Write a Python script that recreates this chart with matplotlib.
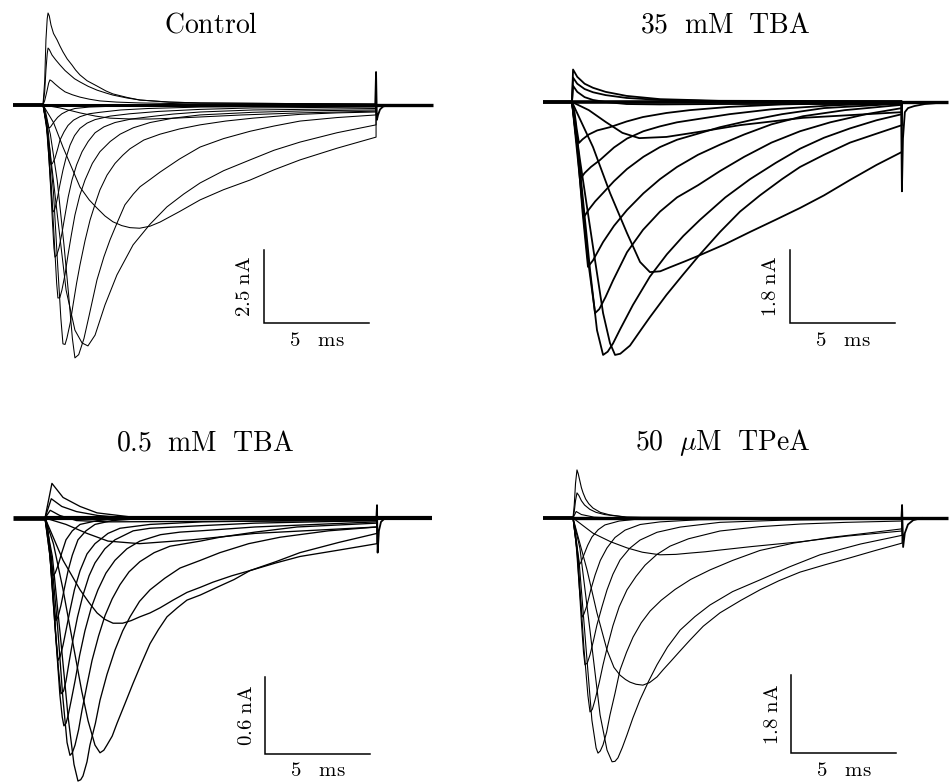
import matplotlib
matplotlib.use("Agg")
import matplotlib.pyplot as plt

plt.rcParams['mathtext.fontset'] = 'cm'
plt.rcParams['font.family'] = ['DejaVu Serif']

# ---------------------------------------------------------------- data
# times in ms (0 = start of the test pulse), currents in nA (inward < 0)
titles = [r'$\mathrm{Control}$', r'$\mathrm{35\ \ mM\ \ TBA}$',
          r'$\mathrm{0.5\ \ mM\ \ TBA}$', r'$\mathrm{50\ \ }\mu\mathrm{M\ \ TPeA}$']
bar_nA = [2.5, 1.8, 0.6, 1.8]
bar_ms = [5, 5, 5, 5]
bar_nA_labels = [r'$\mathrm{2.5\ nA}$', r'$\mathrm{1.8\ nA}$', r'$\mathrm{0.6\ nA}$', r'$\mathrm{1.8\ nA}$']
bar_ms_labels = [r'$\mathrm{5\ \ \ ms}$'] * 4
pulse_end = [15.86, 15.71, 15.81, 15.67]
record_start = [-1.43, -1.38, -1.52, -1.43]
record_stop = [18.55, 17.90, 18.43, 17.86]

ctrl_t = [
    [0, .08, .14, .2, .24, .3, .38, .5, .67, .8, .95, 1.15, 1.38, 1.55, 1.76, 2.1, 2.57, 3.0, 3.33, 4.0, 4.62, 6, 7.48, 15.86],
    [0, .08, .14, .2, .24, .3, .43, .6, .81, 1.05, 1.29, 1.5, 1.76, 2.15, 2.57, 3.0, 3.33, 4.0, 4.62, 6, 7.48, 15.86],
    [0, .08, .18, .27, .33, .42, .57, .8, 1.05, 1.4, 1.76, 2.2, 2.71, 3.5, 4.62, 7, 15.86],
    [0, .1, .2, .26, .29, .36, .52, .7, .90, 1.2, 1.52, 2.2, 3.0, 5, 15.86],
    [0, .12, .22, .3, .35, .38, .45, .57, .7, .81, 1.0, 1.19, 1.45, 1.76, 2.2, 2.71, 3.7, 5.0, 7.5, 15.86],
    [0, .15, .28, .38, .44, .48, .55, .67, .8, .95, 1.1, 1.29, 1.5, 1.76, 2.1, 2.48, 3.2, 4.14, 5.5, 7.48, 10, 15.86],
    [0, .18, .33, .45, .52, .57, .65, .76, .9, 1.05, 1.2, 1.38, 1.6, 1.86, 2.15, 2.48, 2.9, 3.43, 4.2, 5.10, 6.2, 7.48, 10, 15.86],
    [0, .2, .4, .55, .65, .71, .8, .9, 1.05, 1.19, 1.35, 1.52, 1.75, 2.0, 2.35, 2.71, 3.2, 3.67, 4.3, 5.10, 6.2, 7.48, 10, 12.5, 15.86],
    [0, .25, .5, .7, .85, .95, 1.05, 1.14, 1.3, 1.43, 1.6, 1.76, 2.0, 2.24, 2.5, 2.71, 3.05, 3.43, 3.8, 4.14, 4.8, 5.57, 6.5, 7.48, 8.7, 10, 12.24, 14, 15.86],
    [0, .35, .68, 1.0, 1.22, 1.4, 1.52, 1.7, 1.95, 2.2, 2.57, 2.9, 3.19, 3.55, 3.90, 4.3, 4.62, 5.1, 5.57, 6.5, 7.48, 8.6, 9.86, 11, 12.24, 14, 15.86],
    [0, .33, .71, 1.10, 1.52, 1.86, 2.14, 2.48, 2.95, 3.52, 4.29, 5.10, 5.90, 6.7, 7.48, 8.6, 9.86, 11, 12.24, 14, 15.86],
    [0, .5, .95, 1.4, 1.76, 2.2, 2.57, 2.95, 3.33, 3.75, 4.14, 4.6, 5.1, 5.57, 6.5, 7.48, 8.6, 9.86, 11, 12.24, 14, 15.86],
    [0, .81, 1.76, 2.5, 3.19, 4.2, 5.10, 6.3, 7.48, 9.5, 12.24, 15.86],
]
ctrl_i = [
    [0, .8, 2.23, 2.95, 3.15, 3.05, 2.74, 2.45, 2.23, 2.03, 1.82, 1.58, 1.37, 1.2, 1.03, .83, .65, .48, .38, .26, .17, .1, .07, .03],
    [0, .45, 1.20, 1.75, 1.95, 1.9, 1.71, 1.55, 1.37, 1.18, 1.03, .9, .79, .64, .51, .41, .34, .24, .17, .1, .07, .03],
    [0, .15, .45, .75, .86, .82, .72, .58, .45, .35, .27, .2, .14, .1, .07, .04, .03],
    [0, -.15, -.5, -.72, -.79, -.75, -.58, -.42, -.3, -.19, -.12, -.07, -.05, -.02, 0],
    [0, -.35, -1.05, -1.65, -1.95, -2.05, -2.0, -1.82, -1.5, -1.20, -.92, -.7, -.52, -.4, -.3, -.25, -.17, -.12, -.07, -.03],
    [0, -.6, -1.8, -2.9, -3.45, -3.66, -3.6, -3.25, -2.75, -2.23, -1.8, -1.37, -1.05, -.8, -.62, -.5, -.38, -.3, -.22, -.15, -.1, -.07],
    [0, -.7, -2.4, -4.0, -4.9, -5.21, -5.15, -4.90, -4.4, -3.77, -3.15, -2.57, -2.05, -1.6, -1.25, -.95, -.75, -.6, -.48, -.4, -.31, -.24, -.17, -.12],
    [0, -.8, -2.8, -4.8, -6.1, -6.61, -6.6, -6.34, -5.8, -5.14, -4.45, -3.77, -3.1, -2.57, -2.0, -1.6, -1.25, -1.0, -.78, -.6, -.45, -.34, -.25, -.2, -.17],
    [0, -.9, -3.0, -5.5, -7.3, -8.18, -8.2, -7.98, -7.45, -6.85, -6.1, -5.48, -4.65, -3.94, -3.35, -2.91, -2.4, -2.0, -1.72, -1.5, -1.2, -1.0, -.82, -.68, -.55, -.45, -.32, -.27, -.24],
    [0, -1.0, -2.6, -4.8, -6.5, -8.0, -8.66, -8.55, -8.0, -7.2, -5.99, -5.2, -4.62, -4.0, -3.42, -3.05, -2.8, -2.55, -2.3, -1.85, -1.44, -1.15, -.9, -.72, -.55, -.43, -.34],
    [0, -1.54, -3.94, -6.34, -7.71, -8.15, -8.25, -7.88, -6.85, -5.82, -4.79, -4.08, -3.49, -3.05, -2.67, -2.25, -1.88, -1.55, -1.27, -.95, -.68],
    [0, -.6, -1.44, -2.2, -2.81, -3.25, -3.53, -3.8, -4.0, -4.13, -4.2, -4.22, -4.15, -4.01, -3.65, -3.25, -2.9, -2.57, -2.22, -1.88, -1.48, -1.10],
    [0, -.10, -.27, -.38, -.45, -.48, -.48, -.45, -.41, -.34, -.27, -.21],
]
ctrl_artifact_t = [15.82, 15.86, 15.90, 15.95, 16.05, 16.2, 16.5]
ctrl_artifact_i = [0, 1.13, -.51, -.35, -.15, -.05, 0]

tba35_t = [
    [0, .05, .25, .6, 1.0, 1.6, 2.6, 4.2, 7.0, 15.71],
    [0, .05, .25, .6, 1.0, 1.6, 2.6, 4.2, 7.0, 15.71],
    [0, .05, .25, .6, 1.0, 1.6, 2.6, 4.2, 7.0, 15.71],
    [0, .12, .22, .33, .5, .8, 1.2, 1.81, 2.6, 3.38, 4.5, 5.62, 7.5, 10, 15.71],
    [0, .15, .3, .43, .6, .9, 1.33, 2.0, 2.62, 3.4, 4.19, 5.0, 6.0, 7.5, 9.5, 12.5, 15.71],
    [0, .2, .4, .57, .8, 1.1, 1.48, 2.0, 2.62, 3.4, 4.19, 5.0, 6.0, 7.05, 8.5, 10, 12, 15.71],
    [0, .25, .5, .76, 1.0, 1.48, 2.0, 2.62, 3.4, 4.19, 5.0, 6.0, 7.05, 8.2, 9.5, 11, 13, 15.71],
    [0, .38, .76, 1.10, 1.3, 1.6, 1.95, 2.62, 3.38, 4.19, 5.0, 6.0, 7.05, 8.2, 9.5, 10.86, 12.3, 14, 15.71],
    [0, .38, .86, 1.19, 1.48, 1.7, 1.95, 2.29, 2.9, 3.71, 4.52, 5.3, 6.1, 7.3, 8.48, 9.7, 10.86, 12, 13.24, 14.5, 15.71],
    [0, .38, 1.0, 1.48, 1.81, 2.05, 2.3, 2.76, 3.3, 3.71, 4.5, 5.29, 6.1, 7.05, 8.0, 8.95, 10.0, 10.86, 12.0, 13.24, 14.5, 15.71],
    [0, 1.0, 1.81, 2.62, 3.24, 3.71, 4.2, 4.67, 5.4, 6.10, 7.3, 8.48, 9.7, 10.86, 12.0, 13.24, 14.5, 15.71],
    [0, .8, 1.6, 2.4, 3.2, 4.5, 6.0, 8.0, 11.0, 15.71],
]
tba35_i = [
    [0, .80, .62, .45, .35, .25, .15, .07, .03, .02],
    [0, .60, .45, .32, .24, .17, .10, .05, .02, 0],
    [0, .40, .25, .12, .05, 0, -.05, -.06, -.05, -.05],
    [0, -.25, -.65, -1.01, -.92, -.8, -.7, -.62, -.48, -.37, -.27, -.2, -.12, -.06, 0],
    [0, -.45, -1.2, -1.87, -1.75, -1.6, -1.43, -1.12, -.90, -.72, -.6, -.5, -.42, -.3, -.18, -.08, -.03],
    [0, -.75, -1.9, -2.83, -2.65, -2.45, -2.24, -1.95, -1.65, -1.35, -1.11, -.93, -.78, -.62, -.45, -.3, -.15, -.04],
    [0, -1.1, -2.7, -4.06, -3.9, -3.45, -3.05, -2.66, -2.25, -1.9, -1.6, -1.3, -1.05, -.8, -.55, -.35, -.2, -.07],
    [0, -1.92, -3.89, -5.20, -5.1, -4.8, -4.4, -3.7, -3.15, -2.7, -2.35, -2.05, -1.7, -1.35, -1.0, -.72, -.5, -.3, -.15],
    [0, -1.67, -4.14, -5.62, -6.23, -6.15, -5.95, -5.6, -5.0, -4.3, -3.75, -3.3, -2.9, -2.35, -1.9, -1.5, -1.15, -.88, -.65, -.45, -.3],
    [0, -1.43, -3.57, -5.20, -5.94, -6.23, -6.2, -6.0, -5.6, -5.3, -4.75, -4.25, -3.75, -3.2, -2.7, -2.3, -1.9, -1.6, -1.3, -1.0, -.78, -.57],
    [0, -1.11, -2.24, -3.23, -3.94, -4.19, -4.17, -4.07, -3.92, -3.77, -3.5, -3.2, -2.9, -2.61, -2.3, -1.92, -1.55, -1.23],
    [0, -.20, -.49, -.76, -.89, -.86, -.74, -.57, -.39, -.25],
]
tba35_artifact_t = [15.67, 15.71, 15.76, 15.85, 16.0, 16.3, 16.8, 17.5]
tba35_artifact_i = [0, -2.2, -.9, -.25, -.15, -.10, -.05, -.02]

tba05_t = [
    [0, .33, .86, 1.67, 2.48, 4.0, 15.81],
    [0, .30, .80, 1.50, 2.50, 4.0, 15.81],
    [0, .25, .70, 1.50, 3.0, 15.81],
    [0, .1, .2, .3, .38, .48, .62, .8, 1.0, 1.3, 1.67, 2.5, 4, 15.81],
    [0, .15, .3, .42, .52, .62, .76, .92, 1.10, 1.3, 1.57, 1.95, 2.38, 3.2, 5, 15.81],
    [0, .2, .4, .52, .62, .72, .86, 1.02, 1.19, 1.4, 1.67, 2.0, 2.38, 3.0, 3.57, 5, 7.5, 15.81],
    [0, .24, .48, .64, .76, .88, 1.0, 1.15, 1.33, 1.55, 1.81, 2.1, 2.38, 2.85, 3.33, 4.2, 5.0, 7.4, 10, 15.81],
    [0, .24, .48, .71, .82, .90, 1.0, 1.10, 1.25, 1.43, 1.65, 1.90, 2.2, 2.52, 2.9, 3.33, 3.9, 4.52, 5.5, 6.43, 7.4, 10, 15.81],
    [0, .3, .6, .85, 1.05, 1.19, 1.3, 1.43, 1.6, 1.76, 2.0, 2.24, 2.55, 2.86, 3.2, 3.57, 4.0, 4.52, 5.2, 5.95, 7.4, 8.33, 10, 12, 15.81],
    [0, .35, .75, 1.10, 1.38, 1.57, 1.7, 1.81, 2.0, 2.14, 2.4, 2.62, 2.95, 3.33, 3.7, 4.05, 4.5, 5.0, 5.7, 6.43, 7.4, 8.33, 9.7, 11.19, 13.5, 15.81],
    [0, .4, .85, 1.3, 1.75, 2.05, 2.38, 2.62, 2.8, 2.95, 3.2, 3.43, 3.8, 4.19, 4.6, 5.0, 5.4, 5.81, 6.3, 6.76, 7.4, 8.19, 9.0, 9.76, 11, 12.14, 14, 15.81],
    [0, .86, 1.67, 2.1, 2.48, 2.85, 3.24, 3.7, 4.1, 4.52, 5.0, 5.48, 6.1, 6.76, 7.4, 8.0, 8.9, 9.76, 11, 12.14, 14, 15.81],
    [0, 1.0, 2.0, 3.0, 4.5, 7.0, 10.0, 15.81],
]
tba05_i = [
    [0, .27, .16, .09, .04, .01, 0],
    [0, .15, .09, .05, .02, 0, 0],
    [0, .06, .02, -.02, -.03, -.02],
    [0, -.05, -.18, -.36, -.45, -.43, -.37, -.27, -.17, -.1, -.05, -.02, 0, 0],
    [0, -.12, -.42, -.68, -.80, -.77, -.68, -.55, -.41, -.29, -.17, -.1, -.05, -.02, 0, 0],
    [0, -.2, -.6, -.93, -1.11, -1.08, -.99, -.86, -.72, -.56, -.41, -.28, -.2, -.12, -.08, -.05, -.03, -.01],
    [0, -.3, -.85, -1.18, -1.37, -1.35, -1.27, -1.12, -.95, -.77, -.60, -.45, -.35, -.24, -.17, -.1, -.08, -.06, -.04, -.02],
    [0, -.3, -.85, -1.38, -1.55, -1.62, -1.6, -1.54, -1.42, -1.27, -1.07, -.88, -.7, -.56, -.43, -.33, -.24, -.18, -.13, -.11, -.1, -.07, -.03],
    [0, -.3, -.85, -1.4, -1.75, -1.85, -1.83, -1.77, -1.65, -1.5, -1.3, -1.11, -.92, -.76, -.63, -.52, -.42, -.34, -.27, -.22, -.18, -.15, -.11, -.07, -.04],
    [0, -.3, -.95, -1.55, -1.92, -2.05, -2.04, -2.01, -1.9, -1.77, -1.6, -1.42, -1.22, -1.03, -.88, -.77, -.65, -.56, -.47, -.39, -.33, -.27, -.2, -.15, -.1, -.07],
    [0, -.2, -.55, -.95, -1.35, -1.58, -1.77, -1.83, -1.81, -1.77, -1.7, -1.60, -1.45, -1.29, -1.13, -.98, -.87, -.77, -.7, -.64, -.6, -.54, -.48, -.41, -.34, -.27, -.19, -.12],
    [0, -.33, -.56, -.66, -.74, -.79, -.82, -.82, -.80, -.77, -.74, -.70, -.64, -.58, -.54, -.50, -.45, -.41, -.35, -.30, -.25, -.20],
    [0, -.05, -.12, -.18, -.20, -.17, -.12, -.07],
]
tba05_artifact_t = [15.78, 15.81, 15.84, 15.90, 16.0, 16.2]
tba05_artifact_i = [0, .10, -.27, -.10, -.03, 0]

tpea_t = [
    [0, .06, .12, .19, .25, .33, .4, .48, .6, .75, .95, 1.3, 1.76, 2.57, 4, 15.67],
    [0, .06, .12, .19, .28, .4, .55, .8, 1.1, 1.5, 2.5, 15.67],
    [0, .15, .40, 1.0, 2.0, 15.67],
    [0, .1, .2, .29, .38, .52, .7, .90, 1.2, 1.52, 2.2, 3.19, 5, 15.67],
    [0, .14, .3, .43, .52, .67, .85, 1.05, 1.3, 1.62, 2.0, 2.48, 3.2, 4.14, 6, 15.67],
    [0, .2, .4, .5, .57, .68, .81, .98, 1.14, 1.38, 1.62, 1.9, 2.24, 2.7, 3.19, 4.0, 5.10, 7, 10, 15.67],
    [0, .25, .52, .71, .81, .92, 1.05, 1.25, 1.43, 1.65, 1.90, 2.2, 2.57, 3.0, 3.43, 4.0, 4.62, 5.5, 7.0, 8.9, 10.81, 13, 15.67],
    [0, .29, .62, .90, 1.10, 1.19, 1.3, 1.43, 1.6, 1.76, 2.0, 2.24, 2.55, 2.86, 3.25, 3.67, 4.2, 4.86, 5.6, 6.52, 7.6, 8.90, 10.5, 12.24, 14, 15.67],
    [0, .33, .81, 1.29, 1.62, 1.86, 2.0, 2.14, 2.35, 2.57, 2.85, 3.19, 3.6, 4.0, 4.5, 5.10, 5.8, 6.52, 7.6, 8.90, 10.3, 11.76, 13.7, 15.67],
    [0, .67, 1.14, 1.62, 1.95, 2.24, 2.5, 2.71, 3.0, 3.33, 3.65, 4.0, 4.3, 4.62, 5.1, 5.57, 6.2, 7.0, 8.0, 8.90, 9.8, 10.81, 12, 13.19, 14.4, 15.67],
    [0, .95, 1.8, 2.57, 3.3, 4.14, 4.9, 5.57, 6.3, 7.0, 8.5, 10.81, 13, 15.67],
]
tpea_i = [
    [0, .3, .8, 1.11, 1.02, .85, .7, .58, .44, .33, .23, .13, .07, .02, 0, 0],
    [0, .15, .4, .58, .52, .4, .3, .2, .13, .08, .02, 0],
    [0, .15, .08, .02, 0, 0],
    [0, -.25, -.7, -1.09, -1.02, -.85, -.63, -.44, -.27, -.16, -.07, -.02, 0, 0],
    [0, -.55, -1.6, -2.29, -2.22, -2.01, -1.65, -1.32, -.98, -.69, -.45, -.28, -.15, -.09, -.04, 0],
    [0, -.8, -2.4, -3.1, -3.39, -3.35, -3.16, -2.82, -2.47, -2.05, -1.66, -1.3, -.97, -.7, -.51, -.33, -.21, -.1, -.05, -.02],
    [0, -1.0, -3.0, -4.1, -4.48, -4.42, -4.20, -3.8, -3.39, -2.95, -2.49, -2.05, -1.66, -1.35, -1.09, -.84, -.65, -.48, -.3, -.2, -.14, -.1, -.07],
    [0, -1.0, -3.0, -4.67, -5.31, -5.43, -5.38, -5.24, -4.95, -4.55, -4.05, -3.51, -3.1, -2.75, -2.42, -2.15, -1.9, -1.65, -1.42, -1.2, -.98, -.75, -.58, -.45, -.35, -.25],
    [0, -.7, -2.6, -4.55, -5.36, -5.63, -5.62, -5.54, -5.3, -5.01, -4.62, -4.20, -3.77, -3.39, -2.98, -2.59, -2.28, -2.01, -1.7, -1.43, -1.13, -.85, -.6, -.4],
    [0, -1.20, -2.19, -3.05, -3.45, -3.63, -3.73, -3.79, -3.84, -3.86, -3.8, -3.67, -3.5, -3.33, -3.07, -2.82, -2.5, -2.19, -1.9, -1.66, -1.45, -1.25, -1.08, -.92, -.75, -.58],
    [0, -.35, -.55, -.69, -.79, -.85, -.84, -.81, -.78, -.74, -.66, -.55, -.42, -.30],
]
tpea_artifact_t = [15.64, 15.67, 15.72, 15.80, 15.95, 16.2, 16.6]
tpea_artifact_i = [0, .30, -.67, -.35, -.15, -.05, 0]

all_t = [ctrl_t, tba35_t, tba05_t, tpea_t]
all_i = [ctrl_i, tba35_i, tba05_i, tpea_i]
all_art_t = [ctrl_artifact_t, tba35_artifact_t, tba05_artifact_t, tpea_artifact_t]
all_art_i = [ctrl_artifact_i, tba35_artifact_i, tba05_artifact_i, tpea_artifact_i]

# ---------------------------------------------------------------- layout (pixels)
FW, FH, DPI = 949, 782, 100
# axes box (left, top, width, height), pulse-onset x, baseline y, px/ms, px/nA
layout = [
    dict(box=(0, 0, 474, 391), x0=43, y0=105, pms=21.0, pna=29.2, bar=(264, 323), title=(211, 25),
         lw=0.75, base_lw=2.8, band_lw=2.2),
    dict(box=(475, 0, 474, 391), x0=572, y0=102, pms=21.0, pna=40.6, bar=(790, 323), title=(725, 25),
         lw=1.3, base_lw=2.8, band_lw=2.6),
    dict(box=(0, 391, 474, 391), x0=45, y0=518, pms=21.0, pna=128.3, bar=(265, 754), title=(205, 443),
         lw=0.95, base_lw=3.4, band_lw=3.0),
    dict(box=(475, 391, 474, 391), x0=573, y0=518, pms=21.0, pna=43.3, bar=(791, 753), title=(723, 443),
         lw=0.8, base_lw=2.8, band_lw=2.4),
]

fig = plt.figure(figsize=(FW / DPI, FH / DPI), dpi=DPI)
fig.patch.set_facecolor('white')

for k, L in enumerate(layout):
    bl, bt, bw, bh = L['box']
    ax = fig.add_axes([bl / FW, 1 - (bt + bh) / FH, bw / FW, bh / FH])
    ax.set_xlim((bl - L['x0']) / L['pms'], (bl + bw - L['x0']) / L['pms'])
    ax.set_ylim((L['y0'] - bt - bh) / L['pna'], (L['y0'] - bt) / L['pna'])
    ax.axis('off')
    lw = L['lw']
    # zero-current level: before, during (overlapping traces) and after the pulse
    ax.plot([record_start[k], 0], [0, 0], color='k', lw=L['base_lw'], solid_capstyle='butt')
    ax.plot([0, pulse_end[k]], [0, 0], color='k', lw=L['band_lw'], solid_capstyle='butt')
    ax.plot([pulse_end[k], record_stop[k]], [0, 0], color='k', lw=L['base_lw'] - 0.4,
            solid_capstyle='butt')
    # current traces
    for t, i in zip(all_t[k], all_i[k]):
        ax.plot(list(t) + [t[-1]], list(i) + [0], color='k', lw=lw, clip_on=False,
                solid_joinstyle='round')
    # end-of-pulse transient
    ax.plot(all_art_t[k], all_art_i[k], color='k', lw=1.3, clip_on=False)
    # scale bars
    tb = (L['bar'][0] - L['x0']) / L['pms']
    ib = (L['y0'] - L['bar'][1]) / L['pna']
    ax.plot([tb, tb, tb + bar_ms[k]], [ib + bar_nA[k], ib, ib], color='k', lw=1.1,
            solid_joinstyle='miter')
    ax.text(tb + bar_ms[k] / 2, ib - 17 / L['pna'], bar_ms_labels[k],
            ha='center', va='center', fontsize=15)
    ax.text(tb - 19 / L['pms'], ib + bar_nA[k] / 2, bar_nA_labels[k],
            ha='center', va='center', rotation=90, fontsize=15)
    fig.text(L['title'][0] / FW, 1 - L['title'][1] / FH, titles[k],
             ha='center', va='center', fontsize=20)

fig.savefig('out.png', dpi=DPI, facecolor='white')
